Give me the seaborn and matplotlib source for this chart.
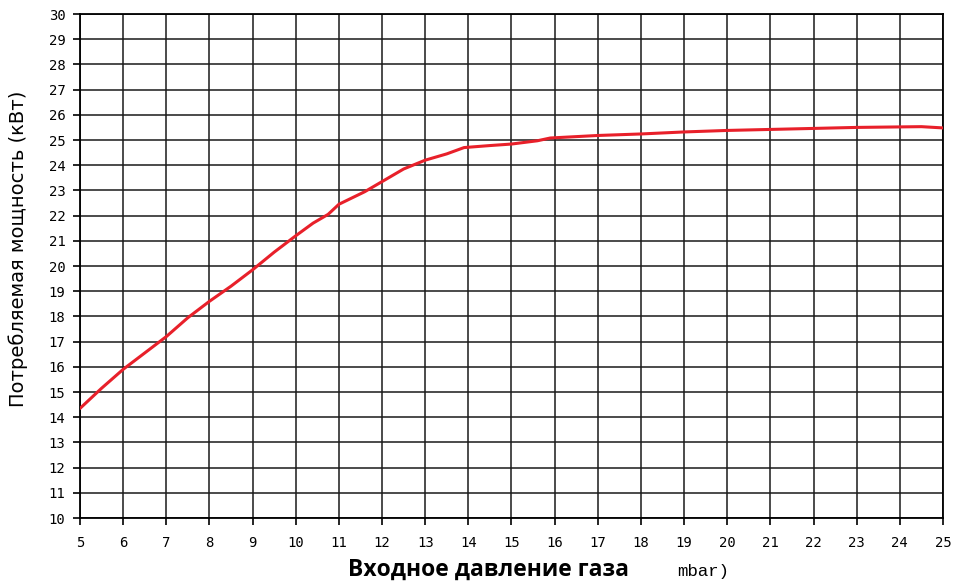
import pandas as pd
import matplotlib
matplotlib.use('Agg')
import matplotlib.pyplot as plt
import seaborn as sns

# gas inlet pressure (mbar) vs consumed power (kW)
pressure = [5.0, 5.5, 6.0, 6.5, 7.0, 7.5, 8.0, 8.5, 9.0, 9.5, 10.0, 10.4, 10.75,
            11.0, 11.6, 12.0, 12.5, 13.0, 13.5, 13.9, 14.5, 15.0, 15.6, 15.9,
            17.0, 18.0, 19.0, 20.0, 21.0, 22.0, 23.0, 24.0, 24.5, 25.0]
power = [14.35, 15.15, 15.9, 16.55, 17.2, 17.95, 18.6, 19.2, 19.85, 20.55, 21.2,
         21.7, 22.05, 22.45, 22.95, 23.35, 23.85, 24.2, 24.45, 24.7, 24.78, 24.84,
         24.97, 25.08, 25.18, 25.24, 25.32, 25.38, 25.42, 25.46, 25.5, 25.52,
         25.53, 25.48]
x_ticks = list(range(5, 26))
y_ticks = list(range(10, 31))

df = pd.DataFrame({'pressure': pressure, 'power': power})

sns.set_style('white')
plt.rcParams['font.family'] = ['DejaVu Sans']

fig = plt.figure(figsize=(9.55, 5.84), dpi=100)
ax = fig.add_axes([0.0838, 0.113, 0.9036, 0.863])

sns.lineplot(data=df, x='pressure', y='power', ax=ax, color='#e8202a',
             linewidth=2.2, zorder=3)

ax.set_xlim(5, 25)
ax.set_ylim(10, 30)
ax.set_xticks(x_ticks)
ax.set_yticks(y_ticks)
ax.set_xticklabels([str(v) for v in x_ticks], family='DejaVu Sans Mono', fontsize=10)
ax.set_yticklabels([str(v) for v in y_ticks], family='DejaVu Sans Mono', fontsize=10)
ax.grid(True, color='#1a1a1a', linewidth=1.1)
ax.set_axisbelow(True)
for s in ax.spines.values():
    s.set_color('black')
    s.set_linewidth(1.3)
ax.tick_params(axis='x', direction='out', length=5, width=1.2, color='black',
               pad=8, labelcolor='black')
ax.tick_params(axis='y', direction='out', length=5, width=1.2, color='black',
               pad=5.5, labelcolor='black')
ax.tick_params(left=True, bottom=True)

ax.set_xlabel('')
ax.set_ylabel('')
fig.text(0.019, 0.574, 'Потребляемая мощность (кВт)', family='DejaVu Sans',
         fontsize=14, rotation=90, ha='center', va='center', color='black')

fig.text(0.512, 1 - 576 / 584, 'Входное давление газа', family='Open Sans',
         fontweight='bold', fontsize=16.5, ha='center', va='baseline', color='black')
fig.text(0.709, 1 - 576 / 584, 'mbar)', family='Liberation Mono', fontsize=12.5,
         ha='left', va='baseline', color='black')

fig.savefig('out.png', dpi=100)
